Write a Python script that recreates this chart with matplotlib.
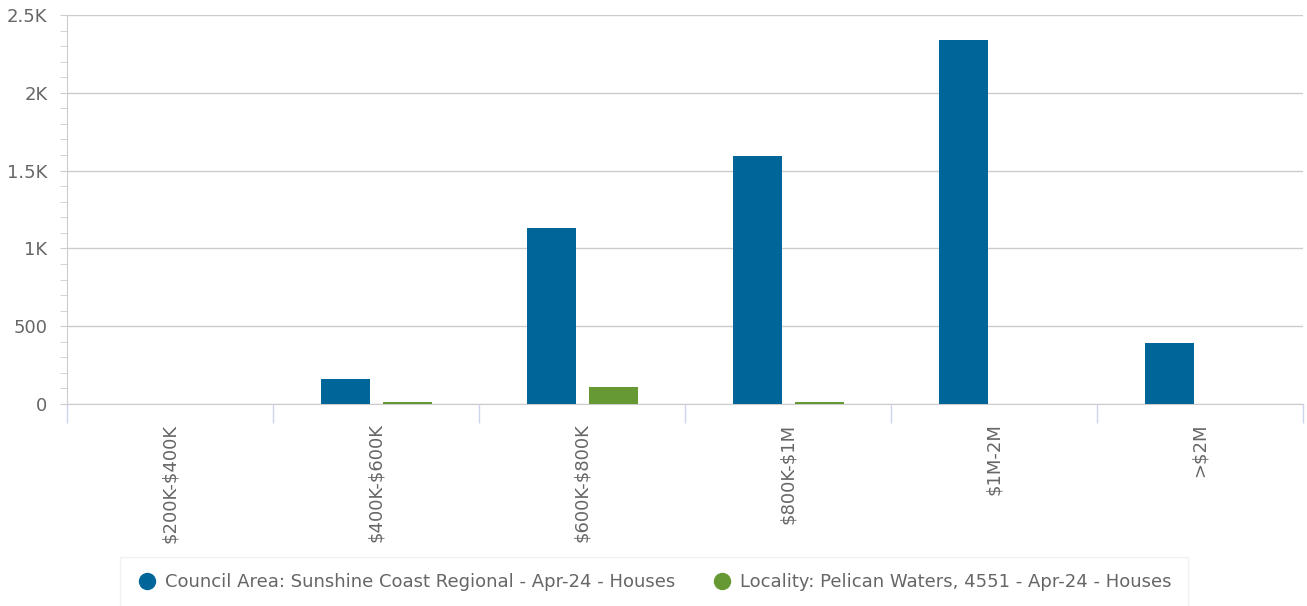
import matplotlib
matplotlib.use("Agg")
import matplotlib.pyplot as plt
import numpy as np
from matplotlib.ticker import FuncFormatter, MultipleLocator
from matplotlib.lines import Line2D

plt.rcParams["font.family"] = ["DejaVu Sans"]
plt.rcParams["text.parse_math"] = False

# data
categories = ["$200K-$400K", "$400K-$600K", "$600K-$800K", "$800K-$1M", "$1M-2M", ">$2M"]
council = [0, 161, 1131, 1594, 2339, 392]
locality = [0, 13, 109, 12, 0, 0]
series_names = ["Council Area: Sunshine Coast Regional - Apr-24 - Houses",
                "Locality: Pelican Waters, 4551 - Apr-24 - Houses"]

blue = "#006699"
green = "#669933"
txt = "#666666"

fig = plt.figure(figsize=(13.07, 6.06), dpi=100)
ax = fig.add_axes([67/1307, 1 - 404/606, (1303 - 67)/1307, (404 - 15)/606])

x = np.arange(len(categories))
w = 0.238
ax.bar(x - 0.148, council, width=w, color=blue, zorder=3)
ax.bar(x + 0.153, locality, width=w, color=green, zorder=3)

ax.set_xlim(-0.5, len(categories) - 0.5)
ax.set_ylim(0, 2500)

def kfmt(v, pos):
    if v >= 1000:
        s = "%g" % (v / 1000)
        return s + "K"
    return "%d" % v

ax.yaxis.set_major_locator(MultipleLocator(500))
ax.yaxis.set_minor_locator(MultipleLocator(100))
ax.yaxis.set_major_formatter(FuncFormatter(kfmt))
ax.grid(axis="y", color="#cccccc", linewidth=1, zorder=0)

for s in ["top", "right"]:
    ax.spines[s].set_visible(False)
ax.spines["left"].set_color("#cccccc")
ax.spines["bottom"].set_color("#cccccc")

ax.tick_params(axis="y", which="major", length=5, color="#cccccc", labelsize=13, labelcolor=txt, pad=9)
ax.tick_params(axis="y", which="minor", length=5, color="#cccccc")

# category labels in the middle, tick marks on the boundaries
ax.set_xticks(x)
ax.set_xticklabels(categories, rotation=90, fontsize=13, color=txt, va="top")
ax.tick_params(axis="x", which="major", length=0, pad=14)
ax.set_xticks(np.arange(len(categories) + 1) - 0.5, minor=True)
ax.tick_params(axis="x", which="minor", length=14, color="#ccd6eb", width=1)

handles = [Line2D([], [], marker="o", linestyle="", markersize=11.5, color=blue),
           Line2D([], [], marker="o", linestyle="", markersize=11.5, color=green)]
leg = fig.legend(handles, series_names, loc="center", bbox_to_anchor=(654/1307, 1 - 582/606),
                 ncol=2, frameon=True, fontsize=13, labelcolor=txt,
                 handletextpad=0.4, columnspacing=2.0, borderpad=0.9, handlelength=1.2)
leg.get_frame().set_edgecolor("#eeeeee")
leg.get_frame().set_boxstyle("square", pad=0)

fig.savefig("out.png", dpi=100)
